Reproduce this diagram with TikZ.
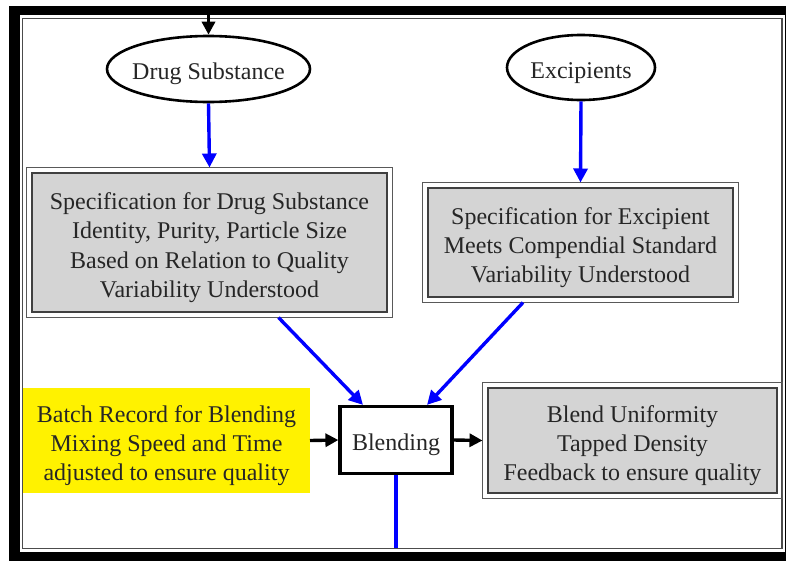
\documentclass[tikz,border=0pt]{standalone}
\usepackage{fontspec}
\setmainfont{Liberation Serif}
\usetikzlibrary{arrows.meta,shapes.geometric,calc}
\newcommand\dnstrut{\rule{0pt}{27pt}}
\begin{document}
\begin{tikzpicture}[x=1pt,y=-1pt,
  txt/.style={font=\fontsize{24}{29.3}\selectfont, text=black!85, align=center},
  ell/.style={ellipse, draw=black, line width=2.6pt, fill=white, inner xsep=-25pt, inner ysep=-8pt, txt},
  gbox/.style={rectangle, draw=black!75, line width=2.3pt, fill=black!17, inner sep=0pt, outer sep=0pt, txt},
  wbox/.style={rectangle, draw=black, line width=3.2pt, fill=white, inner sep=0pt, txt},
  ybox/.style={rectangle, fill=yellow, inner sep=0pt, outer sep=0pt, txt},
  outerln/.style={draw=black!65, line width=1.6pt},
  blu/.style={draw=blue, line width=3.4pt, -{Triangle[length=14pt,width=14pt]}},
  blk/.style={draw=black, line width=3.4pt, -{Triangle[length=13pt,width=13pt]}},
  bluln/.style={draw=blue, line width=3.4pt},
]
\useasboundingbox (0,0) rectangle (786,560);
\clip (0,0) rectangle (786,560);
% frame
\fill[black] (9,6) rectangle (800,580);
\fill[white] (20,15) rectangle (785,552);
\draw[black!70, line width=1.5pt] (22.5,18.5) rectangle (782,548.5);

% nodes
\node[ell, minimum width=203pt, minimum height=66pt] (ds) at (208.5,69) {\dnstrut Drug Substance};
\node[ell, minimum width=148pt, minimum height=65pt] (ex) at (581,67.5) {\dnstrut Excipients};

\node[gbox, minimum width=355pt, minimum height=139pt] (s1) at (209.5,242.5)
  {\dnstrut Specification for Drug Substance\\Identity, Purity, Particle Size\\Based on Relation to Quality\\Variability Understood};
\draw[outerln] ([shift={(-5.5pt,5.5pt)}]s1.north west) rectangle ([shift={(5.5pt,-5.5pt)}]s1.south east);

\node[gbox, minimum width=305pt, minimum height=109pt] (s2) at (580.5,242.5)
  {\dnstrut Specification for Excipient\\Meets Compendial Standard\\Variability Understood};
\draw[outerln] ([shift={(-5.5pt,5.5pt)}]s2.north west) rectangle ([shift={(5.5pt,-5.5pt)}]s2.south east);

\node[ybox, minimum width=287pt, minimum height=105pt] (yl) at (166.5,440.5)
  {\dnstrut Batch Record for Blending\\Mixing Speed and Time\\adjusted to ensure quality};

\node[wbox, minimum width=112pt, minimum height=67pt] (bl) at (396,440) {\dnstrut Blending};

\node[gbox, minimum width=289pt, minimum height=105pt] (bu) at (632.5,440.5)
  {\dnstrut Blend Uniformity\\Tapped Density\\Feedback to ensure quality};
\draw[outerln] ([shift={(-5.5pt,5.5pt)}]bu.north west) rectangle ([shift={(5.5pt,-5.5pt)}]bu.south east);

% connectors
\coordinate (topin) at (208.5,10);
\coordinate (botend) at (396,548);
\draw[blk] (topin) -- (ds);
\draw[blu] (ds.south) -- ([yshift=5.5pt]s1.north);
\draw[blu] (ex.south) -- ([yshift=5.5pt]s2.north);
\draw[blu] ([xshift=69pt,yshift=-5.5pt]s1.south) -- ([xshift=-33pt]bl.north);
\draw[blu] ([xshift=-57.5pt,yshift=-5.5pt]s2.south) -- ([xshift=31pt]bl.north);
\draw[blk] (yl.east) -- (bl.west);
\draw[blk] (bl.east) -- ([xshift=-5.5pt]bu.west);
\draw[bluln] (bl.south) -- (botend);
\end{tikzpicture}
\end{document}
